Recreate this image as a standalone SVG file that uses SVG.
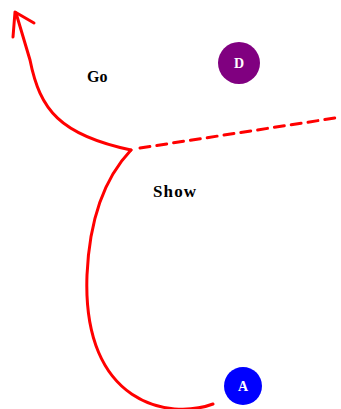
<svg xmlns="http://www.w3.org/2000/svg" width="341" height="409" viewBox="0 0 341 409">
<style>
.edge{fill:none;stroke:#ff0000;stroke-width:3;stroke-linecap:round;stroke-linejoin:round}
.lbl{font-family:"Liberation Serif",serif;fill:#000}
.nl{font-family:"Liberation Serif",serif;font-weight:bold;fill:#fff;font-size:14px;text-anchor:middle}
</style>
<rect width="341" height="409" fill="#fff"/>
<g id="connectors">
<path class="edge" d="M213 404 C170 420 82 405 87 275 C90 205 112 170 131 150"/>
<path class="edge" d="M131 150 C60 135 40 110 30 60 L16 13"/>
<polyline class="edge" points="34,23 15,12 13,37"/>
<path class="edge" d="M140 148 L335 118" stroke-dasharray="10 7" stroke-linecap="butt"/>
</g>
<g id="label-go"><text class="lbl" x="87" y="82" font-size="16" font-weight="bold">Go</text></g>
<g id="label-show"><text class="lbl" x="153" y="197" font-size="17" font-weight="bold" textLength="43">Show</text></g>
<g id="node-D"><circle cx="239" cy="63" r="21" fill="#800080"/><text class="nl" x="239" y="68">D</text></g>
<g id="node-A"><circle cx="243" cy="386" r="19" fill="#0000ff"/><text class="nl" x="243" y="391">A</text></g>
</svg>
